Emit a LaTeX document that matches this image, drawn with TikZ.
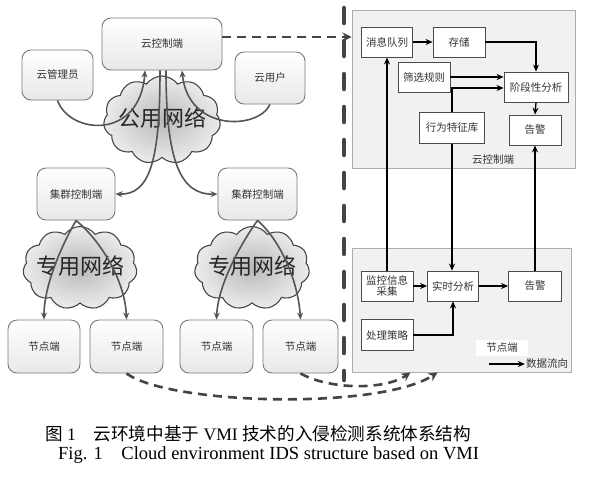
\documentclass[tikz,border=0pt]{standalone}
\usepackage{fontspec}
\setmainfont{Liberation Serif}
\newfontfamily\cjk{Noto Sans CJK SC}
\usetikzlibrary{shapes.symbols,arrows.meta}
\definecolor{edgec}{HTML}{7A7A7A}
\definecolor{connc}{HTML}{555555}
\definecolor{dashc}{HTML}{444444}
\definecolor{panelc}{HTML}{F1F1F1}
\begin{document}
\begin{tikzpicture}[x=1pt,y=-1pt,
  rbox/.style={draw=edgec, line width=0.9pt, rounded corners=9pt, top color=white, bottom color=gray!18, font=\cjk\fontsize{10.5}{12}\selectfont, text=black!80, inner sep=0pt},
  cloudshape/.style={cloud, cloud puffs=11, cloud puff arc=110, cloud ignores aspect, draw=gray!55!black, line width=1.1pt, inner color=gray!55, outer color=gray!15, inner sep=0pt},
  cloudtxt/.style={font=\cjk\fontsize{22}{24}\selectfont, text=black!85},
  link/.style={draw=connc, line width=1.6pt, -{Stealth[length=7pt,width=6pt]}},
  panelbox/.style={draw=gray!65, line width=0.9pt, fill=panelc, inner sep=0pt},
  sbox/.style={draw=gray!60!black, line width=0.8pt, fill=white, font=\cjk\fontsize{10.5}{12}\selectfont, text=black!80, inner sep=0pt, align=center},
  flow/.style={draw=black, line width=1.3pt, -{Stealth[length=7pt,width=6pt]}},
  dashlink/.style={draw=dashc, line width=2.6pt, dash pattern=on 9pt off 6pt, -{Stealth[length=9pt,width=9pt]}},
  lbl/.style={font=\cjk\fontsize{10.5}{12}\selectfont, text=black!80, inner sep=1pt},
  ]
\fill[white] (0,0) rectangle (591,485);
\useasboundingbox (0,0) rectangle (591,485);

% left: rounded boxes
\node[rbox, minimum width=120pt, minimum height=52pt] (cc) at (162,44) {云控制端};
\node[rbox, minimum width=71pt, minimum height=50pt] (adm) at (57.5,75) {云管理员};
\node[rbox, minimum width=70pt, minimum height=52pt] (usr) at (270,78) {云用户};
\node[rbox, minimum width=78pt, minimum height=52pt] (cl1) at (76,194) {集群控制端};
\node[rbox, minimum width=79pt, minimum height=52pt] (cl2) at (257.5,194) {集群控制端};
\node[rbox, minimum width=72pt, minimum height=53pt] (n1) at (44,346.5) {节点端};
\node[rbox, minimum width=73pt, minimum height=53pt] (n2) at (126.5,346.5) {节点端};
\node[rbox, minimum width=73pt, minimum height=53pt] (n3) at (216.5,346.5) {节点端};
\node[rbox, minimum width=75pt, minimum height=53pt] (n4) at (300.5,346.5) {节点端};

% clouds
\node[cloudshape, minimum width=117pt, minimum height=88pt] (pub) at (162,120) {};
\node[cloudtxt] (pubt) at (162,118) {公用网络};
\node[cloudshape, minimum width=114pt, minimum height=83pt] (pv1) at (80,268) {};
\node[cloudtxt] (pv1t) at (80,266) {专用网络};
\node[cloudshape, minimum width=115pt, minimum height=83pt] (pv2) at (252,268) {};
\node[cloudtxt] (pv2t) at (252,266) {专用网络};

% left connectors
\draw[link] (adm.south) .. controls (70,135) and (140,140) .. ([xshift=-17pt]cc.south);
\draw[link] (usr.south) .. controls (258,130) and (188,132) .. ([xshift=20pt]cc.south);
\draw[link] ([xshift=-2pt]cc.south) .. controls (160,160) and (150,195) .. (cl1.east);
\draw[link] ([xshift=4pt]cc.south) .. controls (166,160) and (180,195) .. (cl2.west);
\draw[link] (cl1.south) .. controls (62,245) and (44,285) .. (n1.north);
\draw[link] (cl1.south) .. controls (100,240) and (125,280) .. (n2.north);
\draw[link] (cl2.south) .. controls (240,245) and (218,285) .. (n3.north);
\draw[link] (cl2.south) .. controls (280,240) and (298,280) .. (n4.north);

% divider
\coordinate (divt) at (344,8);
\coordinate (divb) at (344,380);
\draw[draw=dashc, line width=4.5pt, line cap=round, dash pattern=on 15pt off 18pt] (divt) -- (divb);

% right panels
\node[panelbox, minimum width=223pt, minimum height=158pt] (cbox) at (463.5,89) {};
\node[lbl] (cboxt) at (493,160) {云控制端};
\node[panelbox, minimum width=219pt, minimum height=124pt] (nbox) at (461.5,310) {};
\node[lbl, fill=white, inner xsep=10pt, inner ysep=3pt] (nboxt) at (502,348) {节点端};

\node[sbox, minimum width=51pt, minimum height=30pt] (mq) at (387,42) {消息队列};
\node[sbox, minimum width=52pt, minimum height=30pt] (store) at (459,42) {存储};
\node[sbox, minimum width=52pt, minimum height=30pt] (filt) at (424,77) {筛选规则};
\node[sbox, minimum width=64pt, minimum height=30pt] (stage) at (536,87) {阶段性分析};
\node[sbox, minimum width=65pt, minimum height=31pt] (behav) at (452,128) {行为特征库};
\node[sbox, minimum width=52pt, minimum height=30pt] (alarm1) at (535,130) {告警};

\node[sbox, minimum width=52pt, minimum height=30pt, font=\cjk\fontsize{10.5}{11.5}\selectfont] (mon) at (387,286) {监控信息\\采集};
\node[sbox, minimum width=51pt, minimum height=30pt] (rt) at (453,286) {实时分析};
\node[sbox, minimum width=53pt, minimum height=30pt] (alarm2) at (535,286) {告警};
\node[sbox, minimum width=52pt, minimum height=31pt] (policy) at (387,335) {处理策略};

% right flows
\draw[flow] (mq.east) -- (store.west);
\draw[flow] (store.east) -| (stage.north);
\draw[flow] (filt.east) -- (filt.east -| stage.west);
\draw[flow] (behav.north) |- ([yshift=-1pt]stage.west);
\draw[flow] (stage.south) -- (alarm1.north);
\draw[flow] (mon.north) -- (mq.south);
\draw[flow] (behav.south) -- (behav.south |- rt.north);
\draw[flow] (alarm2.north) -- (alarm2.north |- alarm1.south);
\draw[flow] (mon.east) -- (rt.west);
\draw[flow] (rt.east) -- (alarm2.west);
\draw[flow] (policy.east) -| (rt.south);

% legend
\coordinate (legs) at (489,364);
\node[lbl] (legt) at (547,364) {数据流向};
\draw[flow] (legs) -- (legt.west);

% dashed data links
\draw[dashlink] ([yshift=7pt]cc.east) -- ([yshift=7pt]cc.east -| cbox.west);
\draw[dashlink] (n2.south) .. controls (170,405) and (380,410) .. ([xshift=-24pt]nbox.south);
\draw[dashlink] (n4.south) .. controls (330,390) and (385,390) .. ([xshift=-51pt]nbox.south);

% caption
\node[anchor=west, inner sep=0pt, font=\fontsize{17.6}{20}\selectfont] (cap1) at (45,434) {{\cjk 图}~1\quad{\cjk 云环境中基于} VMI {\cjk 技术的入侵检测系统体系结构}};
\node[anchor=west, inner sep=0pt, font=\fontsize{18.5}{20}\selectfont] (cap2) at (58,455) {Fig. 1\quad Cloud environment IDS structure based on VMI};
\end{tikzpicture}
\end{document}
